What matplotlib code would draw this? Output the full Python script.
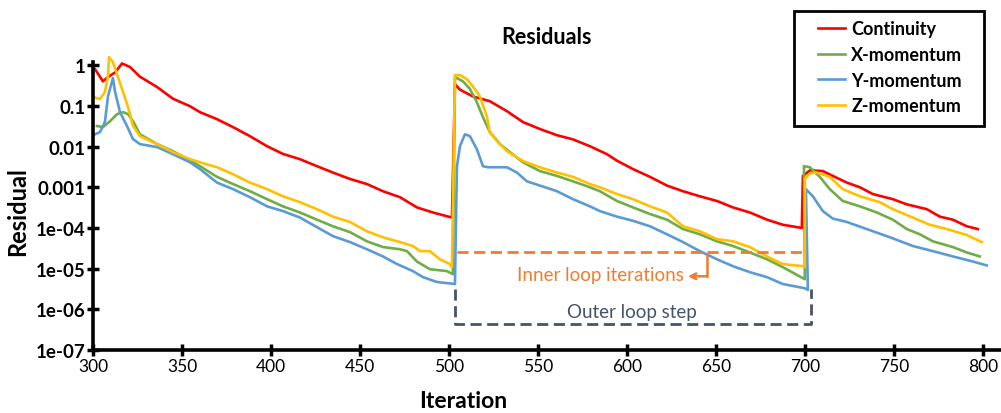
import matplotlib.pyplot as plt
from matplotlib.patches import Rectangle

# ---- data (iteration, residual) ----
iter_cont = [301.1, 305.6, 308.4, 312.4, 316.3, 320.8, 326.4, 336.0, 344.9, 354.5, 360.1, 369.7,
             378.7, 388.2, 397.8, 406.7, 416.3, 425.8, 434.8, 444.4, 453.9, 462.9, 472.5, 482.0,
             491.0, 501.7,
             503.4, 506.2, 513.5, 523.0, 532.6, 541.6, 551.1, 560.7, 569.7, 579.2, 588.8, 594.4,
             603.4, 613.0, 622.5, 631.5, 641.0, 650.6, 659.6, 669.1, 678.7, 687.6, 698.3,
             698.9, 702.8, 710.1, 715.7, 723.6, 730.9, 738.2, 749.4, 757.3, 768.5, 775.8, 783.1,
             791.0, 797.2]
res_cont = [0.80, 0.40, 0.51, 0.66, 1.10, 0.90, 0.52, 0.29, 0.15, 0.098, 0.070, 0.047,
            0.030, 0.018, 0.0102, 0.0066, 0.0049, 0.0033, 0.0023, 0.0016, 0.0012, 0.00080, 0.00057, 0.00032,
            0.00024, 0.00018,
            0.34, 0.25, 0.17, 0.13, 0.074, 0.040, 0.027, 0.019, 0.015, 0.0102, 0.0065, 0.0045,
            0.0028, 0.0018, 0.0011, 0.00080, 0.00060, 0.00046, 0.00032, 0.00024, 0.00016, 0.00012, 0.0001,
            0.0019, 0.0026, 0.0025, 0.0019, 0.0013, 0.0010, 0.00068, 0.00051, 0.00038, 0.00029, 0.00019, 0.00016,
            0.00011, 0.000094]

iter_x = [302.2, 305.6, 309.6, 313.5, 316.9, 319.7, 322.5, 326.4, 336.0, 344.9, 360.1, 369.7,
          378.7, 388.2, 397.8, 406.7, 416.3, 425.8, 434.8, 444.4, 453.9, 462.9, 472.5, 476.4,
          482.0, 489.3, 498.9, 502.2,
          503.4, 507.9, 511.8, 515.7, 519.1, 523.0, 528.7, 534.3, 541.6, 551.1, 560.7, 569.7,
          579.2, 584.8, 594.4, 603.4, 613.0, 622.5, 631.5, 641.0, 650.6, 659.6, 669.1, 678.7,
          687.6, 700.0,
          699.5, 702.8, 708.4, 714.0, 721.3, 730.9, 740.4, 749.4, 757.3, 764.6, 771.9, 783.1,
          791.0, 798.3]
res_x = [0.032, 0.030, 0.042, 0.0625, 0.070, 0.0625, 0.042, 0.020, 0.0115, 0.0077, 0.0033, 0.0018,
         0.0012, 0.0008, 0.00051, 0.00034, 0.00024, 0.00016, 0.00011, 7.9e-5, 4.7e-5, 3.4e-5, 3.0e-5, 2.7e-5,
         1.5e-5, 9.7e-6, 8.7e-6, 7.3e-6,
         0.51, 0.40, 0.26, 0.123, 0.053, 0.0226, 0.0115, 0.0073, 0.0041, 0.0025, 0.0019, 0.0014,
         0.0010, 0.0008, 0.00046, 0.00032, 0.00022, 0.00016, 9.4e-5, 7.0e-5, 4.7e-5, 3.6e-5, 2.5e-5, 1.7e-5,
         1.09e-5, 5.5e-6,
         0.0033, 0.0031, 0.0018, 0.0009, 0.00046, 0.00034, 0.00024, 0.00016, 9.4e-5, 7.0e-5, 4.7e-5, 3.4e-5,
         2.5e-5, 2.0e-5]

iter_y = [301.1, 303.9, 306.7, 308.4, 311.2, 312.4, 315.2, 319.1, 322.5, 326.4, 336.0, 344.9,
          354.5, 360.1, 369.7, 378.7, 388.2, 397.8, 406.7, 416.3, 425.8, 434.8, 444.4, 453.9,
          462.9, 470.8, 479.8, 485.4, 493.3, 503.4,
          504.5, 506.2, 509.0, 511.8, 515.7, 519.1, 521.9, 532.6, 538.2, 543.8, 551.1, 560.7,
          569.7, 579.2, 584.8, 594.4, 603.4, 613.0, 622.5, 631.5, 641.0, 650.6, 659.6, 669.1,
          678.7, 687.6, 700.0, 701.7,
          700.6, 704.5, 710.1, 715.7, 723.6, 734.8, 747.8, 760.7, 771.9, 783.1, 794.4, 802.2]
res_y = [0.020, 0.0226, 0.040, 0.17, 0.48, 0.22, 0.070, 0.032, 0.0152, 0.0115, 0.0097, 0.0065,
         0.0041, 0.0028, 0.0013, 0.0009, 0.00057, 0.00034, 0.00026, 0.00018, 0.000105, 6.3e-5, 4.5e-5, 3.0e-5,
         2.0e-5, 1.3e-5, 8.7e-6, 6.2e-6, 4.7e-6, 4.2e-6,
         0.0033, 0.0102, 0.020, 0.018, 0.0086, 0.0033, 0.0031, 0.0031, 0.0023, 0.0014, 0.0011, 0.0008,
         0.00051, 0.00034, 0.00026, 0.00019, 0.00015, 0.00011, 7.0e-5, 4.5e-5, 2.7e-5, 1.7e-5, 1.15e-5, 8.2e-6,
         6.2e-6, 4.2e-6, 3.3e-6, 3.0e-6,
         0.0009, 0.0006, 0.00026, 0.00017, 0.00014, 9.4e-5, 5.9e-5, 3.6e-5, 2.7e-5, 2.0e-5, 1.5e-5, 1.2e-5]

iter_z = [301.1, 303.9, 306.7, 308.4, 309.0, 311.2, 314.0, 316.9, 319.7, 322.5, 326.4, 336.0,
          344.9, 354.5, 360.1, 369.7, 378.7, 388.2, 397.8, 406.7, 416.3, 425.8, 434.8, 444.4,
          453.9, 462.9, 472.5, 479.8, 483.7, 489.3, 494.9, 500.6, 501.7,
          503.4, 506.2, 510.1, 513.5, 517.4, 521.3, 523.0, 527.0, 532.6, 541.6, 551.1, 560.7,
          569.7, 579.2, 584.8, 594.4, 603.4, 613.0, 622.5, 631.5, 641.0, 650.6, 659.6, 669.1,
          678.7, 687.6, 698.9, 700.0,
          700.0, 702.8, 706.7, 714.0, 721.3, 730.9, 742.1, 749.4, 760.7, 770.2, 779.8, 791.0,
          799.4]
res_z = [0.16, 0.146, 0.22, 0.54, 1.57, 1.19, 0.51, 0.22, 0.093, 0.032, 0.018, 0.0115,
         0.0073, 0.0049, 0.0041, 0.0031, 0.0021, 0.0013, 0.0009, 0.0006, 0.00043, 0.00029, 0.00019, 0.00014,
         8.3e-5, 5.9e-5, 4.5e-5, 3.6e-5, 2.7e-5, 2.7e-5, 1.7e-5, 1.3e-5, 1.09e-5,
         0.57, 0.57, 0.45, 0.30, 0.17, 0.056, 0.0226, 0.0136, 0.0077, 0.0044, 0.0031, 0.0023,
         0.0018, 0.0012, 0.0010, 0.00068, 0.00051, 0.00034, 0.00024, 0.00011, 8.3e-5, 5.3e-5, 4.7e-5, 3.4e-5,
         2.0e-5, 1.3e-5, 1.15e-5, 1.09e-5,
         0.0016, 0.0022, 0.0023, 0.0018, 0.0009, 0.0006, 0.00043, 0.00029, 0.00018, 0.00012, 9.4e-5, 6.7e-5,
         4.5e-5]

series = [
    ("Continuity", iter_cont, res_cont, "#FF0000"),
    ("X-momentum", iter_x, res_x, "#70AD47"),
    ("Y-momentum", iter_y, res_y, "#5B9BD5"),
    ("Z-momentum", iter_z, res_z, "#FFC000"),
]

xticks = [300, 350, 400, 450, 500, 550, 600, 650, 700, 750, 800]
yticks = [1, 0.1, 0.01, 0.001, 1e-4, 1e-5, 1e-6, 1e-7]
ytick_labels = ["1", "0.1", "0.01", "0.001", "1e-04", "1e-05", "1e-06", "1e-07"]

# annotation positions (iteration, residual)
inner_line_x = [504.5, 700.6]
inner_line_y = 2.5e-5
outer_x = [503.4, 703.4]
outer_top, outer_bottom = 3.1e-6, 4.3e-7

plt.rcParams['font.family'] = ['Lato', 'DejaVu Sans']

fig = plt.figure(figsize=(10.01, 4.14), dpi=100)
ax = fig.add_axes([0.0929, 0.152, 0.906, 0.696])

for name, xs, ys, col in series:
    ax.plot(xs, ys, color=col, lw=1.9, label=name, clip_on=False, solid_joinstyle='round')

ax.set_yscale('log')
ax.set_xlim(300, 809.6)
ax.set_ylim(1e-7, 1.2)
ax.set_xticks(xticks)
ax.set_xticklabels([str(t) for t in xticks], fontsize=12.5)
ax.set_yticks(yticks)
ax.set_yticklabels(ytick_labels, fontsize=13.5, fontweight='bold')
ax.minorticks_off()
ax.tick_params(axis='both', direction='inout', length=9, width=2.5, pad=1)
for side in ['top', 'right']:
    ax.spines[side].set_visible(False)
for side in ['left', 'bottom']:
    ax.spines[side].set_linewidth(2.6)

fig.text(0.546, 0.91, "Residuals", ha='center', va='center', fontsize=15.5, fontweight='bold')
fig.text(0.018, 0.49, "Residual", ha='center', va='center', rotation=90, fontsize=17, fontweight='bold')
fig.text(0.463, 0.03, "Iteration", ha='center', va='center', fontsize=16.5, fontweight='bold')

# inner loop marker
orange = "#ED7D31"
ax.plot(inner_line_x, [inner_line_y, inner_line_y], color=orange, lw=2, ls=(0, (4, 2)))
ax.annotate("", xy=(634.3, 6.5e-6), xytext=(645, 6.5e-6),
            arrowprops=dict(arrowstyle='->', color=orange, lw=1.8, shrinkA=0, shrinkB=0))
ax.plot([645, 645], [2.2e-5, 6.5e-6], color=orange, lw=1.8)
ax.text(585.4, 7.3e-6, "Inner loop iterations", color=orange, fontsize=13.5, ha='center', va='center')

# outer loop marker
slate = "#44546A"
ax.plot([outer_x[0], outer_x[0], outer_x[1], outer_x[1]],
        [outer_top, outer_bottom, outer_bottom, outer_top],
        color=slate, lw=2, ls=(0, (4, 2)))
ax.text(602.8, 9.1e-7, "Outer loop step", color=slate, fontsize=13.5, ha='center', va='center')

# legend with a plain black box
fig.patches.append(Rectangle((0.793, 0.693), 0.190, 0.278, transform=fig.transFigure,
                             fill=False, edgecolor='black', lw=2))
fig.legend(loc='upper left', bbox_to_anchor=(0.801, 0.988), frameon=False,
           prop={'weight': 'bold', 'size': 13}, handlelength=1.5, handletextpad=0.35,
           labelspacing=0.48)

fig.savefig("out.png", dpi=100)
